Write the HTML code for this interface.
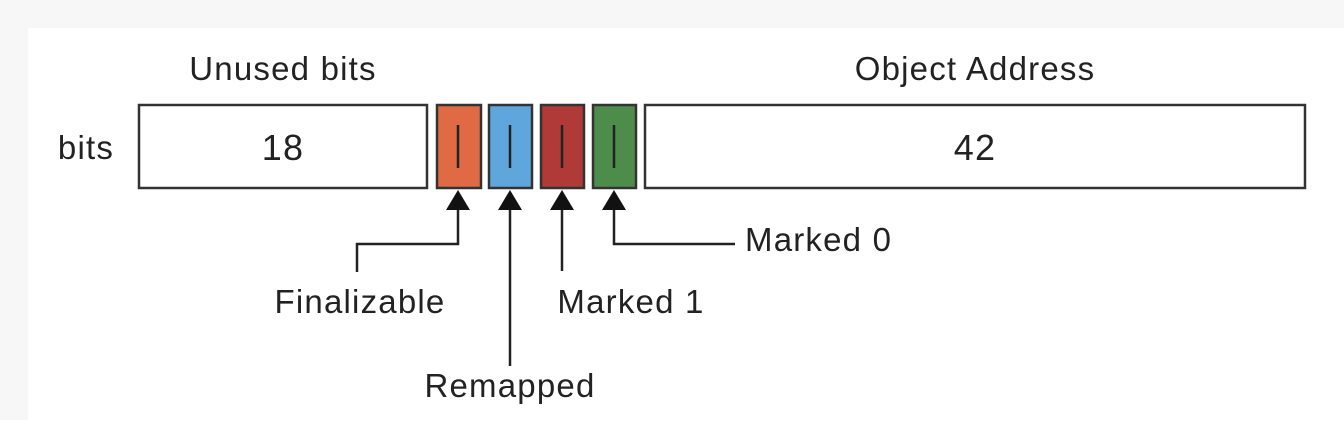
<!DOCTYPE html>
<html><head><meta charset="utf-8"><style>
html,body{margin:0;padding:0;background:#fff}
body{width:1344px;height:420px;overflow:hidden}
</style></head><body>
<svg width="1344" height="420" viewBox="0 0 1344 420" xmlns="http://www.w3.org/2000/svg" font-family="Liberation Sans, sans-serif" fill="#222">
<rect x="0" y="0" width="1344" height="420" fill="#f7f7f7"/>
<rect x="28" y="28" width="1316" height="392" fill="#fff"/>
<g stroke="#333" stroke-width="2.5">
<rect x="139" y="105" width="288" height="83" fill="#fff"/>
<rect x="645" y="105" width="660" height="83" fill="#fff"/>
<rect x="437" y="105" width="44" height="83" fill="#e06a44"/>
<rect x="489" y="105" width="43" height="83" fill="#5ea6dc"/>
<rect x="541" y="105" width="43" height="83" fill="#b03a38"/>
<rect x="593" y="105" width="43" height="83" fill="#4e8c4c"/>
</g>
<g font-size="33" letter-spacing="1.2" text-anchor="middle" fill="#222">
<text x="283" y="80">Unused bits</text>
<text x="975" y="80">Object Address</text>
<text x="283" y="160" font-size="36">18</text>
<text x="975" y="160" font-size="36">42</text>
<text x="86" y="159">bits</text>
<text x="360" y="313">Finalizable</text>
<text x="510" y="397">Remapped</text>
<text x="631" y="313">Marked 1</text>
<text x="745" y="251" text-anchor="start">Marked 0</text>
</g>
<g stroke="#222" stroke-width="2.5" fill="none">
<line x1="458" y1="125" x2="458" y2="168"/>
<line x1="510" y1="125" x2="510" y2="168"/>
<line x1="562" y1="125" x2="562" y2="168"/>
<line x1="614" y1="125" x2="614" y2="168"/>
<polyline points="458,205 458,244 357,244 357,272"/>
<line x1="510" y1="205" x2="510" y2="366"/>
<line x1="562" y1="205" x2="562" y2="271"/>
<polyline points="614,205 614,244 735,244"/>
</g>
<g fill="#111">
<polygon points="458,190 446,210 470,210"/>
<polygon points="510,190 498,210 522,210"/>
<polygon points="562,190 550,210 574,210"/>
<polygon points="614,190 602,210 626,210"/>
</g>
</svg>
</body></html>
